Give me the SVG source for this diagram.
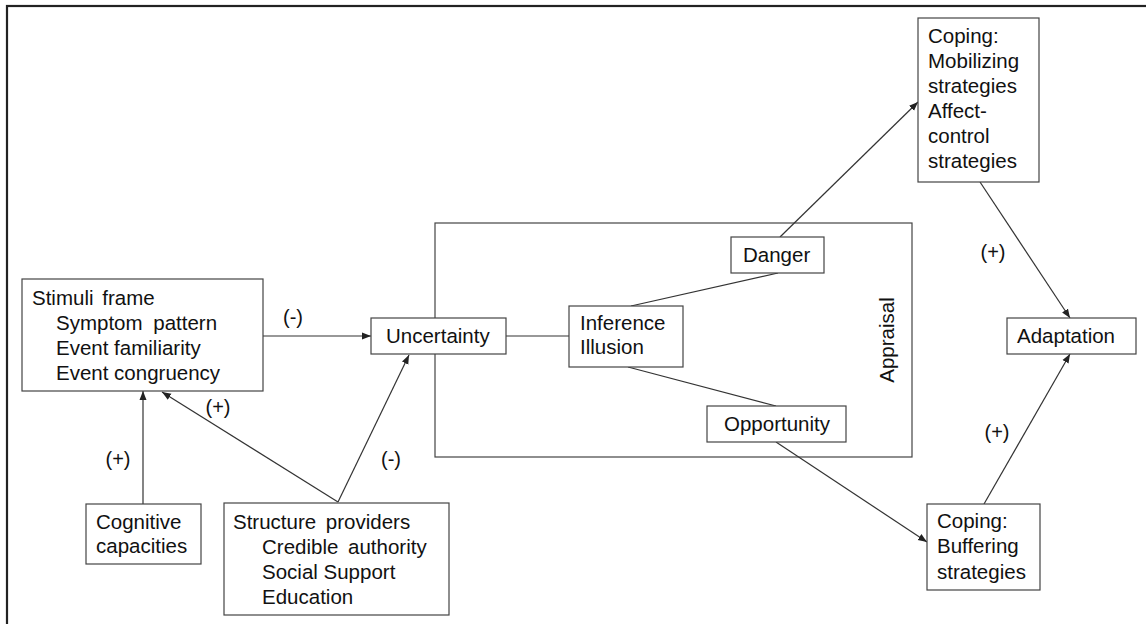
<svg xmlns="http://www.w3.org/2000/svg" width="1146" height="624" viewBox="0 0 1146 624">
<style>
  .box { fill: #ffffff; stroke: #444444; stroke-width: 1.2; }
  .t { font-family: "Liberation Sans", Arial, sans-serif; font-size: 20.5px; fill: #111111; }
  .lbl { font-family: "Liberation Sans", Arial, sans-serif; font-size: 20px; fill: #111111; text-anchor: middle; }
  .c { stroke: #333333; stroke-width: 1.2; fill: none; }
  .ca { stroke: #333333; stroke-width: 1.2; fill: none; marker-end: url(#arr); }
</style>
<defs>
  <marker id="arr" markerUnits="userSpaceOnUse" markerWidth="10" markerHeight="8" refX="9" refY="4" orient="auto">
    <path d="M0,0.5 L9,4 L0,7.5 z" fill="#222222"/>
  </marker>
</defs>
<rect width="1146" height="624" fill="#ffffff"/>
<rect id="frame" x="7" y="6" width="1200" height="700" fill="none" stroke="#222222" stroke-width="2.2"/>

<g id="appraisal">
  <rect class="box" x="435" y="223" width="477" height="234"/>
  <text class="t" transform="translate(894,340) rotate(-90)" text-anchor="middle">Appraisal</text>
</g>

<g id="connectors">
  <line class="ca" x1="263" y1="336" x2="371" y2="336"/>
  <line class="ca" x1="143" y1="504" x2="143" y2="391"/>
  <line class="ca" x1="338" y1="502" x2="162" y2="392"/>
  <line class="ca" x1="338" y1="502" x2="409" y2="355"/>
  <line class="c" x1="506" y1="336" x2="569" y2="336"/>
  <line class="c" x1="631" y1="306" x2="778" y2="273"/>
  <line class="c" x1="628" y1="367" x2="776" y2="406"/>
  <line class="ca" x1="780" y1="237" x2="918" y2="102"/>
  <line class="ca" x1="776" y1="442" x2="927" y2="542"/>
  <line class="ca" x1="980" y1="182" x2="1070" y2="318"/>
  <line class="ca" x1="984" y1="504" x2="1070" y2="354"/>
  <text class="lbl" x="293" y="324">(-)</text>
  <text class="lbl" x="218" y="414">(+)</text>
  <text class="lbl" x="118" y="466">(+)</text>
  <text class="lbl" x="391" y="466">(-)</text>
  <text class="lbl" x="993" y="259">(+)</text>
  <text class="lbl" x="997" y="439">(+)</text>
</g>

<g id="stimuli">
  <rect class="box" x="22" y="279" width="241" height="112"/>
  <text class="t" x="32" y="305" word-spacing="3">Stimuli frame</text>
  <text class="t" x="56" y="330" word-spacing="5">Symptom pattern</text>
  <text class="t" x="56" y="355">Event familiarity</text>
  <text class="t" x="56" y="380">Event congruency</text>
</g>

<g id="cognitive">
  <rect class="box" x="86" y="504" width="115" height="60"/>
  <text class="t" x="96" y="529">Cognitive</text>
  <text class="t" x="96" y="553">capacities</text>
</g>

<g id="structure">
  <rect class="box" x="224" y="503" width="225" height="112"/>
  <text class="t" x="233" y="529" word-spacing="4">Structure providers</text>
  <text class="t" x="262" y="554" word-spacing="4">Credible authority</text>
  <text class="t" x="262" y="579">Social Support</text>
  <text class="t" x="262" y="604">Education</text>
</g>

<g id="uncertainty">
  <rect class="box" x="371" y="318" width="135" height="36"/>
  <text class="t" x="386" y="343">Uncertainty</text>
</g>

<g id="inference">
  <rect class="box" x="569" y="306" width="114" height="61"/>
  <text class="t" x="580" y="330">Inference</text>
  <text class="t" x="580" y="354">Illusion</text>
</g>

<g id="danger">
  <rect class="box" x="731" y="237" width="93" height="36"/>
  <text class="t" x="743" y="262">Danger</text>
</g>

<g id="opportunity">
  <rect class="box" x="707" y="406" width="139" height="36"/>
  <text class="t" x="724" y="431">Opportunity</text>
</g>

<g id="coping-mobilizing">
  <rect class="box" x="918" y="18" width="121" height="164"/>
  <text class="t" x="928" y="43">Coping:</text>
  <text class="t" x="928" y="68">Mobilizing</text>
  <text class="t" x="928" y="93">strategies</text>
  <text class="t" x="928" y="118">Affect-</text>
  <text class="t" x="928" y="143">control</text>
  <text class="t" x="928" y="168">strategies</text>
</g>

<g id="adaptation">
  <rect class="box" x="1007" y="318" width="129" height="36"/>
  <text class="t" x="1017" y="343">Adaptation</text>
</g>

<g id="coping-buffering">
  <rect class="box" x="927" y="504" width="113" height="86"/>
  <text class="t" x="937" y="528">Coping:</text>
  <text class="t" x="937" y="553">Buffering</text>
  <text class="t" x="937" y="579">strategies</text>
</g>
</svg>
